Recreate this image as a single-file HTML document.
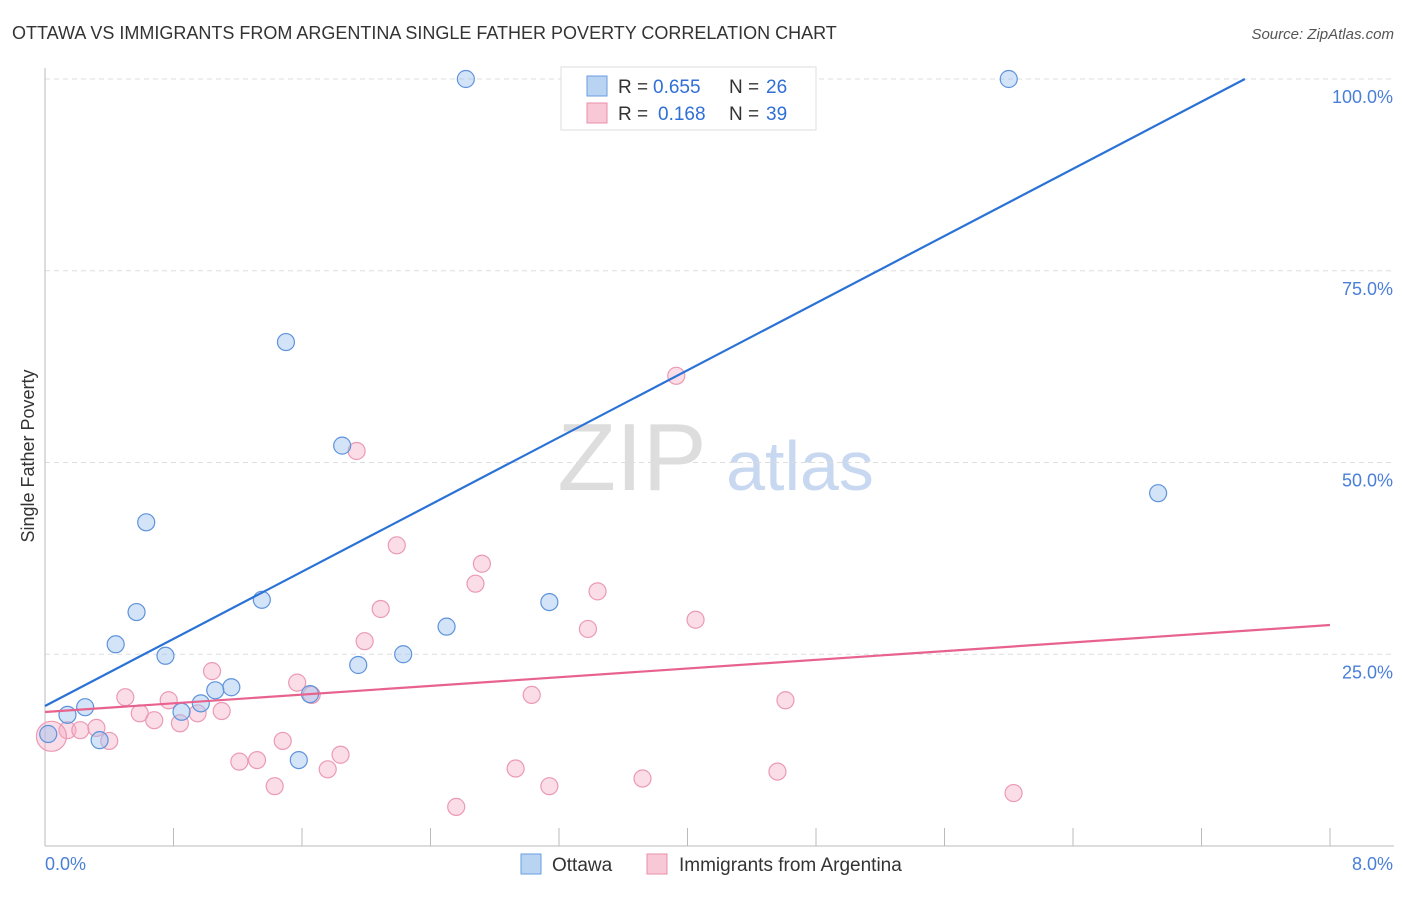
<!DOCTYPE html>
<html><head><meta charset="utf-8"><style>
body{margin:0;background:#fff;font-family:"Liberation Sans",sans-serif;}
svg text{font-family:"Liberation Sans",sans-serif;}
</style></head><body>
<svg id="chart" width="1406" height="892">
<text x="12" y="39" font-size="18" fill="#333">OTTAWA VS IMMIGRANTS FROM ARGENTINA SINGLE FATHER POVERTY CORRELATION CHART</text>
<text x="1394" y="39" font-size="15" fill="#555" text-anchor="end" font-style="italic">Source: ZipAtlas.com</text>
<text x="632" y="490" font-size="96" fill="#ddd" font-family="Liberation Serif" text-anchor="middle">ZIP</text>
<text x="800" y="490" font-size="70" fill="#c8d8f0" text-anchor="middle">atlas</text>
<text transform="translate(34,456) rotate(-90)" font-size="18" fill="#333" text-anchor="middle">Single Father Poverty</text>
<g id="grid"></g><g id="axes"></g><g id="marks"></g><g id="lines"></g>
<g>
<rect x="561" y="67" width="255" height="63" fill="#fff" stroke="#ddd"/>
<rect x="587" y="76" width="20" height="20" fill="#b9d3f3" stroke="#6a9ee0"/>
<rect x="587" y="103" width="20" height="20" fill="#f9c8d6" stroke="#ea8fab"/>
<text x="618" y="93" font-size="19" fill="#333">R =</text>
<text x="653" y="93" font-size="19" fill="#2f6fd6">0.655</text>
<text x="729" y="93" font-size="19" fill="#333">N =</text>
<text x="766" y="93" font-size="19" fill="#2f6fd6">26</text>
<text x="618" y="120" font-size="19" fill="#333">R =</text>
<text x="658" y="120" font-size="19" fill="#2f6fd6">0.168</text>
<text x="729" y="120" font-size="19" fill="#333">N =</text>
<text x="766" y="120" font-size="19" fill="#2f6fd6">39</text>
</g>
<g>
<rect x="521" y="854" width="20" height="20" fill="#b9d3f3" stroke="#6a9ee0"/>
<text x="552" y="871" font-size="19" fill="#333">Ottawa</text>
<rect x="647" y="854" width="20" height="20" fill="#f9c8d6" stroke="#ea8fab"/>
<text x="679" y="871" font-size="19" fill="#333">Immigrants from Argentina</text>
</g>
</svg>
<script>
const xTickLabels=["0.0%","8.0%"];
const yTicks=[25,50,75,100];
const yTickLabels=["25.0%","50.0%","75.0%","100.0%"];
const blueX=[2.62,6.00,1.50,1.85,0.63,6.93,0.57,1.35,0.44,0.75,3.14,2.50,2.23,1.95,1.16,1.06,0.97,1.65,0.25,0.14,0.85,0.34,0.02,1.58,3.56,4.56];
const blueY=[100,100,65.7,52.2,42.2,46.0,30.5,32.1,26.3,24.8,31.8,28.6,25.0,23.6,20.7,20.3,18.6,19.8,18.1,17.1,17.5,13.8,14.6,11.2,99.9,99.9];
const pinkX=[3.93,1.94,2.19,2.72,2.68,3.44,2.09,3.38,4.05,1.99,1.04,1.57,3.03,1.66,0.50,0.77,4.61,0.59,0.95,1.10,0.68,0.84,0.32,0.14,0.22,0.40,1.48,1.84,1.21,1.32,1.76,2.93,4.56,3.72,1.43,3.14,6.03,2.56,0.04];
const pinkY=[61.3,51.5,39.2,36.8,34.2,33.2,30.9,28.3,29.5,26.7,22.8,21.3,19.7,19.7,19.4,19.0,19.0,17.3,17.3,17.6,16.4,16.0,15.4,15.1,15.1,13.7,13.7,11.9,11.0,11.2,10.0,10.1,9.7,8.8,7.8,7.8,6.9,5.1,14.3];
const blueLine=[18.25,105.8]; // intercept, value at x=8 (extrapolated)
const pinkLine=[17.47,28.81];
const X=v=>45+v/8*1285, Y=v=>846-v/100*767;
const NS="http://www.w3.org/2000/svg";
function mk(t,a,p){const e=document.createElementNS(NS,t);for(const k in a)e.setAttribute(k,a[k]);p.appendChild(e);return e;}
const grid=document.getElementById('grid'),axes=document.getElementById('axes'),marks=document.getElementById('marks'),lines=document.getElementById('lines');
yTicks.forEach((t,i)=>{
 const g=mk('line',{x1:45,x2:1394,y1:Y(t),y2:Y(t),stroke:'#ddd','stroke-dasharray':'5,4'},grid);
 
 
 const l=mk('text',{x:1393,y:Y(t)+24,'font-size':18,fill:'#4a7fd8','text-anchor':'end'},axes);l.textContent=yTickLabels[i];
 
 
});
const ax=mk('line',{x1:45,x2:1394,y1:846,y2:846,stroke:'#bbb'},axes);


const ay=mk('line',{x1:45,x2:45,y1:68,y2:846,stroke:'#bbb'},axes);


for(let i=0;i<=10;i++){const t=mk('line',{x1:X(i*0.8),x2:X(i*0.8),y1:828,y2:846,stroke:'#bbb'},axes);
 
 }
[[0,45,'start'],[8,1393,'end']].forEach((d,i)=>{const l=mk('text',{x:d[1],y:870,'font-size':18,fill:'#4a7fd8','text-anchor':d[2]},axes);l.textContent=xTickLabels[i];
 
 });
pinkX.forEach((x,i)=>{const r=i==pinkX.length-1?15:8.5;const c=mk('circle',{cx:X(x),cy:Y(pinkY[i]),r:r,fill:'rgba(244,170,195,0.4)',stroke:'#eb9ab4','stroke-width':1.2},marks);
 
 });
blueX.forEach((x,i)=>{const c=mk('circle',{cx:X(x),cy:Y(blueY[i]),r:8.5,fill:'rgba(160,195,240,0.45)',stroke:'#5e93dc','stroke-width':1.2},marks);
 
 });
const bx2=(100-blueLine[0])/(blueLine[1]-blueLine[0])*8;
const bl=mk('line',{x1:X(0),y1:Y(blueLine[0]),x2:X(bx2),y2:Y(100),stroke:'#2a72d6','stroke-width':2.2},lines);


const pl=mk('line',{x1:X(0),y1:Y(pinkLine[0]),x2:X(8),y2:Y(pinkLine[1]),stroke:'#e8628e','stroke-width':2.2},lines);


</script>
</body></html>
